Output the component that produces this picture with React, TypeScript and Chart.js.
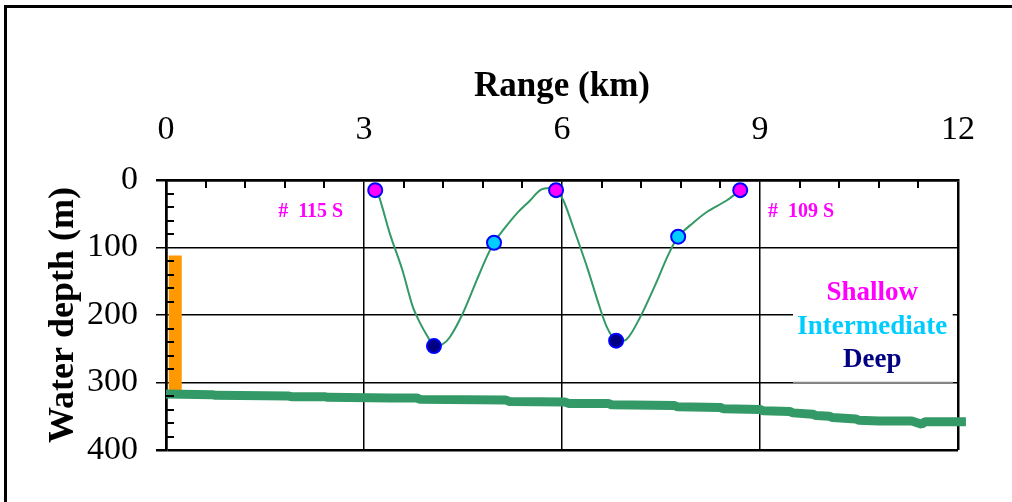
import React, { useEffect, useRef } from "react";
import { Chart, registerables } from "chart.js";

Chart.register(...registerables);

// Along-track profile of the sampling trajectory (range km, depth m)
const profileKm = [3.17, 3.23, 3.39, 3.58, 3.74, 3.85, 3.97, 4.06, 4.18, 4.3, 4.5, 4.71, 4.86, 4.97, 5.11, 5.32, 5.52, 5.67, 5.82, 5.91, 6.02, 6.17, 6.38, 6.55, 6.68, 6.82, 6.98, 7.18, 7.41, 7.61, 7.76, 7.98, 8.2, 8.5, 8.7];
const profileDepth = [15, 25, 79, 133, 188, 212, 233, 246, 244, 233, 197, 148, 114, 93, 74, 49, 30, 15, 12, 15, 30, 70, 129, 182, 218, 238, 236, 204, 156, 111, 84, 64, 47, 30, 15];

// Sampling stations by layer
const shallowKm = [3.17, 5.91, 8.7];
const shallowDepth = [15, 15, 15];
const intermediateKm = [4.97, 7.76];
const intermediateDepth = [93, 84];
const deepKm = [4.06, 6.82];
const deepDepth = [246, 238];

// Seafloor along the transect
const seafloorKm = [0.0, 0.7, 0.75, 1.85, 1.9, 2.4, 2.45, 3.4, 3.8, 3.85, 5.15, 5.2, 6.05, 6.1, 6.7, 6.75, 7.7, 7.75, 8.4, 8.45, 9.0, 9.05, 9.45, 9.5, 9.8, 9.85, 10.05, 10.1, 10.45, 10.5, 10.8, 11.3, 11.45, 11.5, 11.55, 12.12];
const seafloorDepth = [317, 318, 319, 320, 321, 321, 322, 323, 323, 325, 326, 328, 329, 331, 331, 333, 334, 336, 337, 339, 340, 342, 343, 345, 347, 349, 350, 352, 354, 356, 357, 357, 362, 358, 358, 358];

// Vertical bar near the origin
const barKm = [0.14, 0.14];
const barDepth = [112, 317];

// Axis ticks
const xTicks = [0, 3, 6, 9, 12];
const yTicks = [0, 100, 200, 300, 400];
const xMinorStep = 0.6;
const yMinorStep = 20;

// Station labels and layer legend
const stationLabels = ["#  115 S", "#  109 S"];
const stationKm = [1.7, 9.12];
const stationDepth = [47, 47];
const legendLabels = ["Shallow", "Intermediate", "Deep"];
const legendDepth = [167, 218, 267];

const SERIF = "'Liberation Serif', 'Times New Roman', serif";
const MAGENTA = "#ff00ff";
const CYAN = "#00ccff";
const NAVY = "#000080";
const GREEN = "#339966";
const ORANGE = "#ff9900";

const pts = (xs: number[], ys: number[]) => xs.map((x, i) => ({ x, y: ys[i] }));

const decorPlugin = {
  id: "decor",
  beforeDraw(chart: any) {
    const ctx = chart.ctx;
    ctx.save();
    ctx.strokeStyle = "#000";
    ctx.lineWidth = 3;
    ctx.strokeRect(5.5, 6.5, 1100, 600);
    ctx.restore();
  },
  afterDatasetsDraw(chart: any) {
    const ctx = chart.ctx;
    const xs = chart.scales.x;
    const ys = chart.scales.y;
    const area = chart.chartArea;
    ctx.save();
    // minor ticks, pointing into the plot
    ctx.strokeStyle = "#000";
    ctx.lineWidth = 2;
    ctx.beginPath();
    for (let v = xMinorStep; v < 12; v += xMinorStep) {
      if (Math.abs(v / 3 - Math.round(v / 3)) < 1e-6) continue;
      const px = Math.round(xs.getPixelForValue(v));
      ctx.moveTo(px, area.top);
      ctx.lineTo(px, area.top + 8);
    }
    for (let v = yMinorStep; v < 400; v += yMinorStep) {
      if (v % 100 === 0) continue;
      const py = Math.round(ys.getPixelForValue(v));
      ctx.moveTo(area.left, py);
      ctx.lineTo(area.left + 8, py);
    }
    ctx.stroke();

    // station labels
    ctx.fillStyle = MAGENTA;
    ctx.font = `bold 20px ${SERIF}`;
    ctx.textAlign = "left";
    ctx.textBaseline = "middle";
    stationLabels.forEach((t, i) => {
      ctx.fillText(t, xs.getPixelForValue(stationKm[i]), ys.getPixelForValue(stationDepth[i]));
    });

    // layer legend box
    const bx0 = xs.getPixelForValue(9.5);
    const bx1 = xs.getPixelForValue(11.92);
    const by0 = ys.getPixelForValue(135);
    const by1 = ys.getPixelForValue(300);
    ctx.fillStyle = "#fff";
    ctx.fillRect(bx0, by0, bx1 - bx0, by1 - by0);
    ctx.strokeStyle = "#888";
    ctx.lineWidth = 1.5;
    ctx.beginPath();
    ctx.moveTo(bx0, by1);
    ctx.lineTo(bx1, by1);
    ctx.stroke();
    const colors = [MAGENTA, CYAN, NAVY];
    ctx.font = `bold 27px ${SERIF}`;
    ctx.textAlign = "center";
    legendLabels.forEach((t, i) => {
      ctx.fillStyle = colors[i];
      ctx.fillText(t, xs.getPixelForValue(10.7), ys.getPixelForValue(legendDepth[i]));
    });
    ctx.restore();
  },
};

export default function App() {
  const ref = useRef<HTMLCanvasElement | null>(null);

  useEffect(() => {
    document.body.style.margin = "0";
    const canvas = ref.current;
    if (!canvas) return;
    const marker = (fill: string) => ({
      showLine: false,
      pointRadius: 7,
      pointBackgroundColor: fill,
      pointBorderColor: "#0000ff",
      pointBorderWidth: 2,
    });
    const chart = new Chart(canvas, {
      type: "line",
      data: {
        datasets: [
          { label: "Shallow", data: pts(shallowKm, shallowDepth), ...marker(MAGENTA) },
          { label: "Intermediate", data: pts(intermediateKm, intermediateDepth), ...marker(CYAN) },
          { label: "Deep", data: pts(deepKm, deepDepth), ...marker(NAVY) },
          {
            label: "Profile",
            data: pts(profileKm, profileDepth),
            borderColor: GREEN,
            borderWidth: 2,
            pointRadius: 0,
            tension: 0.3,
          },
          {
            label: "Seafloor",
            data: pts(seafloorKm, seafloorDepth),
            borderColor: GREEN,
            borderWidth: 9,
            pointRadius: 0,
            borderJoinStyle: "bevel",
            clip: false,
          } as any,
          {
            label: "Bar",
            data: pts(barKm, barDepth),
            borderColor: ORANGE,
            borderWidth: 13,
            borderCapStyle: "butt",
            pointRadius: 0,
          },
        ],
      },
      options: {
        responsive: false,
        animation: false,
        events: [],
        layout: { padding: { left: 0, top: 0, right: 54, bottom: 52 } },
        plugins: { legend: { display: false }, tooltip: { enabled: false } },
        scales: {
          x: {
            type: "linear",
            position: "top",
            min: 0,
            max: 12,
            afterFit: (s: any) => {
              s.height = 180;
            },
            afterBuildTicks: (s: any) => {
              s.ticks = xTicks.map((v) => ({ value: v }));
            },
            ticks: {
              color: "#000",
              font: { family: SERIF, size: 34 },
              padding: 30,
              maxRotation: 0,
            },
            grid: {
              color: "#000",
              lineWidth: (c: any) => (c.tick && (c.tick.value === 0 || c.tick.value === 12) ? 2.5 : 1.5),
              drawTicks: false,
            },
            border: { display: true, color: "#000", width: 2.5 },
            title: {
              display: true,
              text: "Range (km)",
              color: "#000",
              font: { family: SERIF, size: 35, weight: "bold" },
              padding: { top: 66, bottom: 0 },
            },
          },
          y: {
            type: "linear",
            reverse: true,
            min: 0,
            max: 400,
            afterFit: (s: any) => {
              s.width = 166;
            },
            afterBuildTicks: (s: any) => {
              s.ticks = yTicks.map((v) => ({ value: v }));
            },
            ticks: {
              color: "#000",
              font: { family: SERIF, size: 34 },
              padding: 18,
            },
            grid: {
              color: "#000",
              lineWidth: (c: any) => (c.tick && (c.tick.value === 0 || c.tick.value === 400) ? 2.5 : 1.5),
              tickLength: 10,
            },
            border: { display: true, color: "#000", width: 2.5 },
            title: {
              display: true,
              text: "Water depth (m)",
              color: "#000",
              font: { family: SERIF, size: 36, weight: "bold" },
              padding: { top: 42, bottom: 0 },
            },
          },
        },
      },
      plugins: [decorPlugin],
    });
    return () => chart.destroy();
  }, []);

  return <canvas ref={ref} width={1012} height={502} style={{ display: "block" }} />;
}
